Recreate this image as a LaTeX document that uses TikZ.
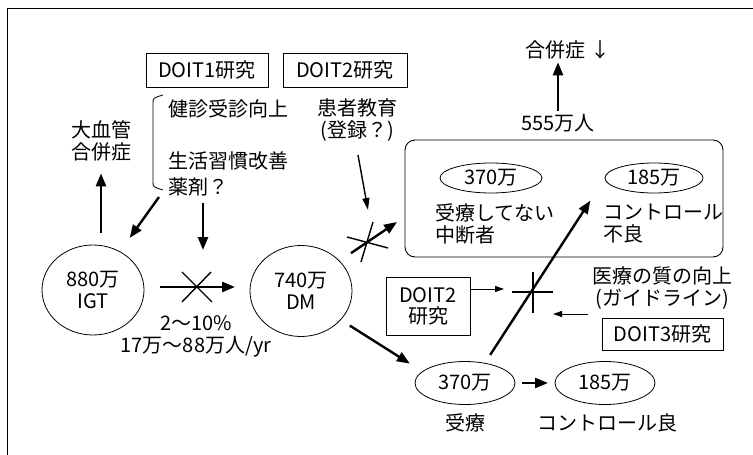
\documentclass[tikz,border=0pt]{standalone}
\usepackage{fontspec}
\setmainfont{Noto Sans CJK JP}
\usetikzlibrary{arrows.meta,shapes.geometric}
\begin{document}
\begin{tikzpicture}[x=1pt,y=-1pt,
  every node/.style={inner sep=0pt, outer sep=0pt, font=\fontsize{20}{22}\selectfont},
  lbox/.style={draw, line width=0.8pt},
  ell/.style={draw, ellipse, line width=0.8pt},
  thk/.style={line width=2.4pt, -{Triangle[length=13pt,width=10pt]}},
  med/.style={line width=1.4pt, -{Triangle[length=12pt,width=7pt]}},
  thn/.style={line width=0.9pt, -{Triangle[length=9pt,width=6pt]}},
  crs/.style={line width=1.4pt},
]
\useasboundingbox (0,0) rectangle (753,455);
\draw[line width=1pt] (7,455) -- (7,8) -- (753,8);

% top boxes and texts
\node[lbox, minimum width=122pt, minimum height=34pt] (d1) at (207,70) {DOIT1研究};
\node[lbox, minimum width=124pt, minimum height=34pt] (d2) at (345,70) {DOIT2研究};
\node[anchor=west] (kenshin) at (168,109) {健診受診向上};
\node[anchor=west] (seikatsu) at (168,161) {生活習慣改善};
\node[anchor=west] (yaku) at (168,187) {薬剤？};
\node[align=center] (dk) at (101,141) {大血管\\合併症};
\node[align=center] (kanja) at (357,120) {患者教育\\(登録？)};

% bracket
\draw[line width=0.8pt] (163,95) .. controls (153,98) .. (153,104) -- (153,181) .. controls (153,187) .. (163,190);

% main ellipses
\node[ell, minimum width=102pt, minimum height=90pt, align=center] (igt) at (93,290) {880万\\IGT};
\node[ell, minimum width=102pt, minimum height=91pt, align=center] (dm) at (301,291) {740万\\DM};
\node[align=center] (rate) at (196,336) {2〜10\%\\17万〜88万人/yr};

% big rounded box
\node[draw, rounded corners=10pt, line width=0.9pt, minimum width=318pt, minimum height=117pt] (bigbox) at (564,198.5) {};
\node[ell, minimum width=102pt, minimum height=30pt] (u1) at (491,178) {370万};
\node[ell, minimum width=98pt, minimum height=30pt] (u2) at (654,178) {185万};
\node[anchor=west, align=left] (chudan) at (435,224) {受療してない\\中断者};
\node[anchor=west, align=left] (furyo) at (603,224) {コントロール\\不良};
\node (n555) at (558,123) {555万人};
\node (gap) at (568,50) {合併症 ↓};

% lower right
\node[lbox, minimum width=84pt, minimum height=58pt, align=center, font=\fontsize{20}{21}\selectfont] (d2b) at (428,306) {DOIT2\\研究};
\node[align=center] (iryo) at (662,288) {医療の質の向上\\(ガイドライン)};
\node[lbox, minimum width=121pt, minimum height=32pt] (d3) at (662.5,334) {DOIT3研究};
\node[ell, minimum width=100pt, minimum height=43pt] (r1) at (465,383) {370万};
\node[ell, minimum width=100pt, minimum height=43pt] (r2) at (605,383) {185万};
\node (juryo) at (465,423) {受療};
\node (ctrl) at (607,423) {コントロール良};

% coordinates for free ends
\coordinate (brk) at (159,197);
\coordinate (ya) at (203,203);
\coordinate (yb) at (203,250);
\coordinate (ka) at (358,155);
\coordinate (kb) at (368,210);
\coordinate (bx) at (397,222);
\coordinate (x3l) at (504,289);
\coordinate (x3r) at (588,314);
\coordinate (x3rt) at (553,314);

% connectors
\draw[thk, shorten <=12pt, shorten >=12pt] (igt.north -| dk.south) -- (dk.south);
\draw[thk, shorten >=17pt] (brk) -- (igt.55);
\draw[thk] (ya) -- (yb);
\draw[thk, shorten <=16pt, shorten >=15pt] ([yshift=3pt]igt.east) -- ([yshift=4pt]dm.west);
\draw[crs] (182,272) -- (212,302) (211,272) -- (182,302);
\draw[med] (ka) -- (kb);
\draw[thk, shorten <=14pt] (dm.38) -- (bx);
\draw[crs] (347,237) -- (388,248) (373,222) -- (361,262);
\draw[thk, shorten <=11pt, shorten >=15pt] (dm.-36) -- (r1.165);
\draw[thk, shorten <=7pt, shorten >=7pt] (r1.east) -- (r2.west);
\draw[thk, shorten <=10pt, shorten >=27pt] (r1.45) -- (u2.west);
\draw[crs] (533,272) -- (533,313) (512,292) -- (553,292);
\draw[thn] (d2b.east |- x3l) -- (x3l);
\draw[thn] (x3r) -- (x3rt);
\draw[thk, shorten <=3pt, shorten >=3pt] (n555.north) -- (n555.north |- gap.south);
\end{tikzpicture}
\end{document}
